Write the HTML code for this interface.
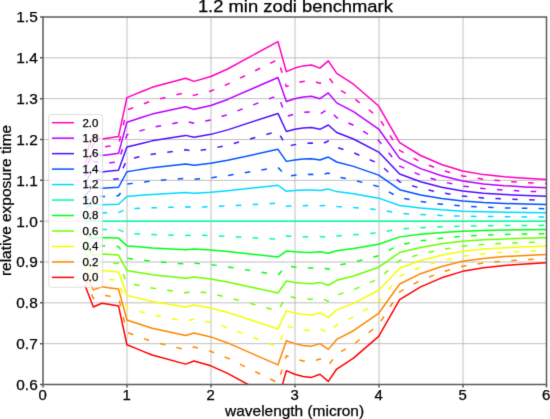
<!DOCTYPE html><html><head><meta charset="utf-8"><style>html,body{margin:0;padding:0;background:#fff;overflow:hidden;}svg{display:block;}#w{width:550px;height:419px;will-change:transform;}text{font-family:"Liberation Sans",sans-serif;fill:#000;stroke:#000;stroke-width:0.25px;}</style></head><body><div id="w">
<svg width="550" height="419" viewBox="0 0 550 419">
<rect width="550" height="419" fill="#fff"/>
<filter id="bl" x="0" y="0" width="550" height="419" filterUnits="userSpaceOnUse" color-interpolation-filters="sRGB"><feConvolveMatrix order="3" kernelMatrix="0.01000 0.08000 0.01000 0.08000 0.64000 0.08000 0.01000 0.08000 0.01000" divisor="1" edgeMode="duplicate" preserveAlpha="true"/></filter>
<g filter="url(#bl)"><rect width="550" height="419" fill="#fff"/>
<defs><clipPath id="ax"><rect x="43.00" y="17.00" width="503.50" height="367.50"/></clipPath></defs>
<path d="M127.00 17.00V384.50M211.00 17.00V384.50M295.00 17.00V384.50M379.00 17.00V384.50M463.00 17.00V384.50M43.00 343.67H546.50M43.00 302.83H546.50M43.00 262.00H546.50M43.00 221.17H546.50M43.00 180.33H546.50M43.00 139.50H546.50M43.00 98.67H546.50M43.00 57.83H546.50" stroke="#b0b0b0" stroke-width="0.8" fill="none"/>
<g clip-path="url(#ax)" fill="none" stroke-width="1.50" stroke-linejoin="round" stroke-linecap="butt">
<polyline points="84.96,157.06 93.35,135.29 101.74,139.09 110.13,137.74 118.53,136.40 126.92,97.60 135.31,94.18 143.70,90.75 152.09,87.32 185.66,78.21 194.05,81.39 210.83,76.49 227.62,68.98 277.97,41.58 286.36,71.68 294.75,68.08 303.14,65.88 311.53,64.94 319.93,68.08 328.32,60.90 336.71,73.31 353.49,84.21 378.67,106.02 399.65,142.60 420.62,155.51 441.60,164.49 462.58,170.98 483.56,174.62 504.54,176.86 525.52,178.37 546.50,179.52" stroke="#ff00bf"/>
<polyline points="84.96,163.47 93.35,143.88 101.74,147.30 110.13,146.09 118.53,144.87 126.92,109.96 135.31,106.87 143.70,103.79 152.09,100.70 185.66,92.50 194.05,95.37 210.83,90.96 227.62,84.20 277.97,59.54 286.36,86.62 294.75,83.39 303.14,81.41 311.53,80.56 319.93,83.39 328.32,76.92 336.71,88.09 353.49,97.91 378.67,117.53 399.65,150.46 420.62,162.07 441.60,170.16 462.58,176.00 483.56,179.27 504.54,181.29 525.52,182.65 546.50,183.68" stroke="#ff00bf" stroke-dasharray="5.55 11.34"/>
<polyline points="84.96,169.88 93.35,152.47 101.74,155.51 110.13,154.43 118.53,153.35 126.92,122.32 135.31,119.57 143.70,116.83 152.09,114.09 185.66,106.80 194.05,109.35 210.83,105.43 227.62,99.42 277.97,77.50 286.36,101.57 294.75,98.70 303.14,96.94 311.53,96.18 319.93,98.70 328.32,92.95 336.71,102.88 353.49,111.60 378.67,129.05 399.65,158.32 420.62,168.64 441.60,175.83 462.58,181.02 483.56,183.93 504.54,185.72 525.52,186.93 546.50,187.85" stroke="#b900ff"/>
<polyline points="84.96,176.29 93.35,161.06 101.74,163.71 110.13,162.77 118.53,161.83 126.92,134.67 135.31,132.27 143.70,129.87 152.09,127.47 185.66,121.10 194.05,123.33 210.83,119.90 227.62,114.64 277.97,95.46 286.36,116.52 294.75,114.01 303.14,112.46 311.53,111.81 319.93,114.01 328.32,108.98 336.71,117.67 353.49,125.30 378.67,140.56 399.65,166.17 420.62,175.20 441.60,181.49 462.58,186.04 483.56,188.58 504.54,190.15 525.52,191.21 546.50,192.01" stroke="#b900ff" stroke-dasharray="5.55 11.34"/>
<polyline points="84.96,182.70 93.35,169.64 101.74,171.92 110.13,171.11 118.53,170.30 126.92,147.03 135.31,144.97 143.70,142.91 152.09,140.86 185.66,135.39 194.05,137.30 210.83,134.36 227.62,129.86 277.97,113.42 286.36,131.47 294.75,129.32 303.14,127.99 311.53,127.43 319.93,129.32 328.32,125.00 336.71,132.45 353.49,138.99 378.67,152.08 399.65,174.03 420.62,181.77 441.60,187.16 462.58,191.06 483.56,193.24 504.54,194.58 525.52,195.49 546.50,196.18" stroke="#4d10ff"/>
<polyline points="84.96,189.11 93.35,178.23 101.74,180.13 110.13,179.46 118.53,178.78 126.92,159.39 135.31,157.67 143.70,155.96 152.09,154.24 185.66,149.69 194.05,151.28 210.83,148.83 227.62,145.07 277.97,131.37 286.36,146.42 294.75,144.62 303.14,143.52 311.53,143.05 319.93,144.62 328.32,141.03 336.71,147.24 353.49,152.69 378.67,163.59 399.65,181.88 420.62,188.34 441.60,192.83 462.58,196.07 483.56,197.89 504.54,199.01 525.52,199.77 546.50,200.34" stroke="#4d10ff" stroke-dasharray="5.55 11.34"/>
<polyline points="84.96,195.52 93.35,186.82 101.74,188.34 110.13,187.80 118.53,187.26 126.92,171.74 135.31,170.37 143.70,169.00 152.09,167.63 185.66,163.98 194.05,165.26 210.83,163.30 227.62,160.29 277.97,149.33 286.36,161.37 294.75,159.93 303.14,159.05 311.53,158.68 319.93,159.93 328.32,157.06 336.71,162.02 353.49,166.38 378.67,175.11 399.65,189.74 420.62,194.90 441.60,198.50 462.58,201.09 483.56,202.55 504.54,203.44 525.52,204.05 546.50,204.51" stroke="#0053ff"/>
<polyline points="84.96,201.93 93.35,195.40 101.74,196.54 110.13,196.14 118.53,195.74 126.92,184.10 135.31,183.07 143.70,182.04 152.09,181.01 185.66,178.28 194.05,179.23 210.83,177.76 227.62,175.51 277.97,167.29 286.36,176.32 294.75,175.24 303.14,174.58 311.53,174.30 319.93,175.24 328.32,173.09 336.71,176.81 353.49,180.08 378.67,186.62 399.65,197.60 420.62,201.47 441.60,204.16 462.58,206.11 483.56,207.20 504.54,207.88 525.52,208.33 546.50,208.67" stroke="#0053ff" stroke-dasharray="5.55 11.34"/>
<polyline points="84.96,208.34 93.35,203.99 101.74,204.75 110.13,204.48 118.53,204.21 126.92,196.45 135.31,195.77 143.70,195.08 152.09,194.40 185.66,192.58 194.05,193.21 210.83,192.23 227.62,190.73 277.97,185.25 286.36,191.27 294.75,190.55 303.14,190.11 311.53,189.92 319.93,190.55 328.32,189.11 336.71,191.60 353.49,193.78 378.67,198.14 399.65,205.45 420.62,208.03 441.60,209.83 462.58,211.13 483.56,211.86 504.54,212.31 525.52,212.61 546.50,212.84" stroke="#00d9ff"/>
<polyline points="84.96,214.76 93.35,212.58 101.74,212.96 110.13,212.82 118.53,212.69 126.92,208.81 135.31,208.47 143.70,208.12 152.09,207.78 185.66,206.87 194.05,207.19 210.83,206.70 227.62,205.95 277.97,203.21 286.36,206.22 294.75,205.86 303.14,205.64 311.53,205.54 319.93,205.86 328.32,205.14 336.71,206.38 353.49,207.47 378.67,209.65 399.65,213.31 420.62,214.60 441.60,215.50 462.58,216.15 483.56,216.51 504.54,216.74 525.52,216.89 546.50,217.00" stroke="#00d9ff" stroke-dasharray="5.55 11.34"/>
<polyline points="84.96,221.17 93.35,221.17 101.74,221.17 110.13,221.17 118.53,221.17 126.92,221.17 135.31,221.17 143.70,221.17 152.09,221.17 185.66,221.17 194.05,221.17 210.83,221.17 227.62,221.17 277.97,221.17 286.36,221.17 294.75,221.17 303.14,221.17 311.53,221.17 319.93,221.17 328.32,221.17 336.71,221.17 353.49,221.17 378.67,221.17 399.65,221.17 420.62,221.17 441.60,221.17 462.58,221.17 483.56,221.17 504.54,221.17 525.52,221.17 546.50,221.17" stroke="#00ff9f"/>
<polyline points="84.96,227.58 93.35,229.75 101.74,229.37 110.13,229.51 118.53,229.64 126.92,233.52 135.31,233.87 143.70,234.21 152.09,234.55 185.66,235.46 194.05,235.14 210.83,235.63 227.62,236.39 277.97,239.13 286.36,236.12 294.75,236.48 303.14,236.70 311.53,236.79 319.93,236.48 328.32,237.19 336.71,235.95 353.49,234.86 378.67,232.68 399.65,229.02 420.62,227.73 441.60,226.83 462.58,226.19 483.56,225.82 504.54,225.60 525.52,225.45 546.50,225.33" stroke="#00ff9f" stroke-dasharray="5.55 11.34"/>
<polyline points="84.96,233.99 93.35,238.34 101.74,237.58 110.13,237.85 118.53,238.12 126.92,245.88 135.31,246.56 143.70,247.25 152.09,247.94 185.66,249.76 194.05,249.12 210.83,250.10 227.62,251.60 277.97,257.08 286.36,251.06 294.75,251.78 303.14,252.22 311.53,252.41 319.93,251.78 328.32,253.22 336.71,250.74 353.49,248.56 378.67,244.20 399.65,236.88 420.62,234.30 441.60,232.50 462.58,231.20 483.56,230.48 504.54,230.03 525.52,229.73 546.50,229.50" stroke="#00ff19"/>
<polyline points="84.96,240.40 93.35,246.93 101.74,245.79 110.13,246.19 118.53,246.60 126.92,258.24 135.31,259.26 143.70,260.29 152.09,261.32 185.66,264.05 194.05,263.10 210.83,264.57 227.62,266.82 277.97,275.04 286.36,266.01 294.75,267.09 303.14,267.75 311.53,268.04 319.93,267.09 328.32,269.25 336.71,265.52 353.49,262.25 378.67,255.71 399.65,244.74 420.62,240.86 441.60,238.17 462.58,236.22 483.56,235.13 504.54,234.46 525.52,234.00 546.50,233.66" stroke="#00ff19" stroke-dasharray="5.55 11.34"/>
<polyline points="84.96,246.81 93.35,255.52 101.74,254.00 110.13,254.54 118.53,255.07 126.92,270.59 135.31,271.96 143.70,273.34 152.09,274.71 185.66,278.35 194.05,277.08 210.83,279.04 227.62,282.04 277.97,293.00 286.36,280.96 294.75,282.40 303.14,283.28 311.53,283.66 319.93,282.40 328.32,285.27 336.71,280.31 353.49,275.95 378.67,267.23 399.65,252.59 420.62,247.43 441.60,243.84 462.58,241.24 483.56,239.79 504.54,238.89 525.52,238.28 546.50,237.83" stroke="#6cff00"/>
<polyline points="84.96,253.22 93.35,264.10 101.74,262.20 110.13,262.88 118.53,263.55 126.92,282.95 135.31,284.66 143.70,286.38 152.09,288.09 185.66,292.65 194.05,291.05 210.83,293.50 227.62,297.26 277.97,310.96 286.36,295.91 294.75,297.71 303.14,298.81 311.53,299.28 319.93,297.71 328.32,301.30 336.71,295.10 353.49,289.64 378.67,278.74 399.65,260.45 420.62,254.00 441.60,249.50 462.58,246.26 483.56,244.44 504.54,243.32 525.52,242.56 546.50,241.99" stroke="#6cff00" stroke-dasharray="5.55 11.34"/>
<polyline points="84.96,259.63 93.35,272.69 101.74,270.41 110.13,271.22 118.53,272.03 126.92,295.30 135.31,297.36 143.70,299.42 152.09,301.48 185.66,306.94 194.05,305.03 210.83,307.97 227.62,312.48 277.97,328.92 286.36,310.86 294.75,313.02 303.14,314.34 311.53,314.90 319.93,313.02 328.32,317.33 336.71,309.88 353.49,303.34 378.67,290.26 399.65,268.30 420.62,260.56 441.60,255.17 462.58,251.28 483.56,249.10 504.54,247.75 525.52,246.84 546.50,246.16" stroke="#f2ff00"/>
<polyline points="84.96,266.04 93.35,281.28 101.74,278.62 110.13,279.56 118.53,280.51 126.92,307.66 135.31,310.06 143.70,312.46 152.09,314.86 185.66,321.24 194.05,319.01 210.83,322.44 227.62,327.70 277.97,346.88 286.36,325.81 294.75,328.33 303.14,329.87 311.53,330.53 319.93,328.33 328.32,333.36 336.71,324.67 353.49,317.04 378.67,301.77 399.65,276.16 420.62,267.13 441.60,260.84 462.58,256.30 483.56,253.75 504.54,252.18 525.52,251.12 546.50,250.32" stroke="#f2ff00" stroke-dasharray="5.55 11.34"/>
<polyline points="84.96,272.45 93.35,289.86 101.74,286.83 110.13,287.90 118.53,288.98 126.92,320.02 135.31,322.76 143.70,325.50 152.09,328.25 185.66,335.53 194.05,332.98 210.83,336.90 227.62,342.92 277.97,364.83 286.36,340.76 294.75,343.63 303.14,345.40 311.53,346.15 319.93,343.63 328.32,349.38 336.71,339.45 353.49,330.73 378.67,313.29 399.65,284.02 420.62,273.69 441.60,266.51 462.58,261.31 483.56,258.41 504.54,256.61 525.52,255.40 546.50,254.49" stroke="#ff8600"/>
<polyline points="84.96,278.86 93.35,298.45 101.74,295.03 110.13,296.25 118.53,297.46 126.92,332.37 135.31,335.46 143.70,338.55 152.09,341.63 185.66,349.83 194.05,346.96 210.83,351.37 227.62,358.13 277.97,382.79 286.36,355.71 294.75,358.94 303.14,360.93 311.53,361.77 319.93,358.94 328.32,365.41 336.71,354.24 353.49,344.43 378.67,324.80 399.65,291.87 420.62,280.26 441.60,272.18 462.58,266.33 483.56,263.06 504.54,261.04 525.52,259.68 546.50,258.65" stroke="#ff8600" stroke-dasharray="5.55 11.34"/>
<polyline points="84.96,285.27 93.35,307.04 101.74,303.24 110.13,304.59 118.53,305.94 126.92,344.73 135.31,348.16 143.70,351.59 152.09,355.02 185.66,364.12 194.05,360.94 210.83,365.84 227.62,373.35 277.97,400.75 286.36,370.66 294.75,374.25 303.14,376.46 311.53,377.40 319.93,374.25 328.32,381.44 336.71,369.02 353.49,358.12 378.67,336.32 399.65,299.73 420.62,286.83 441.60,277.84 462.58,271.35 483.56,267.72 504.54,265.47 525.52,263.96 546.50,262.82" stroke="#ff0000"/>
</g>
<rect x="43.00" y="17.00" width="503.50" height="367.50" fill="none" stroke="#5a5a5a" stroke-width="1.5"/>
<path d="M43.00 384.50v3M127.00 384.50v3M211.00 384.50v3M295.00 384.50v3M379.00 384.50v3M463.00 384.50v3M546.50 384.50v3M43.00 384.50h-3M43.00 343.67h-3M43.00 302.83h-3M43.00 262.00h-3M43.00 221.17h-3M43.00 180.33h-3M43.00 139.50h-3M43.00 98.67h-3M43.00 57.83h-3M43.00 17.00h-3" stroke="#5a5a5a" stroke-width="1.5" fill="none"/>
<text x="42.70" y="400.30" font-size="14.1" text-anchor="middle" textLength="8.3" lengthAdjust="spacingAndGlyphs">0</text>
<text x="126.70" y="400.30" font-size="14.1" text-anchor="middle" textLength="8.3" lengthAdjust="spacingAndGlyphs">1</text>
<text x="210.70" y="400.30" font-size="14.1" text-anchor="middle" textLength="8.3" lengthAdjust="spacingAndGlyphs">2</text>
<text x="294.70" y="400.30" font-size="14.1" text-anchor="middle" textLength="8.3" lengthAdjust="spacingAndGlyphs">3</text>
<text x="378.70" y="400.30" font-size="14.1" text-anchor="middle" textLength="8.3" lengthAdjust="spacingAndGlyphs">4</text>
<text x="462.70" y="400.30" font-size="14.1" text-anchor="middle" textLength="8.3" lengthAdjust="spacingAndGlyphs">5</text>
<text x="546.20" y="400.30" font-size="14.1" text-anchor="middle" textLength="8.3" lengthAdjust="spacingAndGlyphs">6</text>
<text x="37.70" y="389.90" font-size="14.1" text-anchor="end" textLength="21.4" lengthAdjust="spacingAndGlyphs">0.6</text>
<text x="37.70" y="349.07" font-size="14.1" text-anchor="end" textLength="21.4" lengthAdjust="spacingAndGlyphs">0.7</text>
<text x="37.70" y="308.23" font-size="14.1" text-anchor="end" textLength="21.4" lengthAdjust="spacingAndGlyphs">0.8</text>
<text x="37.70" y="267.40" font-size="14.1" text-anchor="end" textLength="21.4" lengthAdjust="spacingAndGlyphs">0.9</text>
<text x="37.70" y="226.57" font-size="14.1" text-anchor="end" textLength="21.4" lengthAdjust="spacingAndGlyphs">1.0</text>
<text x="37.70" y="185.73" font-size="14.1" text-anchor="end" textLength="21.4" lengthAdjust="spacingAndGlyphs">1.1</text>
<text x="37.70" y="144.90" font-size="14.1" text-anchor="end" textLength="21.4" lengthAdjust="spacingAndGlyphs">1.2</text>
<text x="37.70" y="104.07" font-size="14.1" text-anchor="end" textLength="21.4" lengthAdjust="spacingAndGlyphs">1.3</text>
<text x="37.70" y="63.23" font-size="14.1" text-anchor="end" textLength="21.4" lengthAdjust="spacingAndGlyphs">1.4</text>
<text x="37.70" y="22.40" font-size="14.1" text-anchor="end" textLength="21.4" lengthAdjust="spacingAndGlyphs">1.5</text>
<text x="295.4" y="12.2" font-size="16.8" text-anchor="middle" textLength="195" lengthAdjust="spacingAndGlyphs">1.2 min zodi benchmark</text>
<text x="294.6" y="415.8" font-size="14.2" text-anchor="middle" textLength="139" lengthAdjust="spacingAndGlyphs">wavelength (micron)</text>
<text x="0" y="0" font-size="13.8" text-anchor="middle" textLength="151.2" lengthAdjust="spacingAndGlyphs" transform="translate(11.0 200.5) rotate(-90)">relative exposure time</text>
<rect x="48.70" y="114.60" width="53.90" height="172.70" rx="2" fill="#fff" fill-opacity="0.8" stroke="#cccccc" stroke-opacity="0.8" stroke-width="0.8"/>
<path d="M52 122.70H74" stroke="#ff00bf" stroke-width="1.50"/>
<text x="82.4" y="126.50" font-size="10.6" textLength="16" lengthAdjust="spacingAndGlyphs">2.0</text>
<path d="M52 138.17H74" stroke="#b900ff" stroke-width="1.50"/>
<text x="82.4" y="141.97" font-size="10.6" textLength="16" lengthAdjust="spacingAndGlyphs">1.8</text>
<path d="M52 153.64H74" stroke="#4d10ff" stroke-width="1.50"/>
<text x="82.4" y="157.44" font-size="10.6" textLength="16" lengthAdjust="spacingAndGlyphs">1.6</text>
<path d="M52 169.11H74" stroke="#0053ff" stroke-width="1.50"/>
<text x="82.4" y="172.91" font-size="10.6" textLength="16" lengthAdjust="spacingAndGlyphs">1.4</text>
<path d="M52 184.58H74" stroke="#00d9ff" stroke-width="1.50"/>
<text x="82.4" y="188.38" font-size="10.6" textLength="16" lengthAdjust="spacingAndGlyphs">1.2</text>
<path d="M52 200.05H74" stroke="#00ff9f" stroke-width="1.50"/>
<text x="82.4" y="203.85" font-size="10.6" textLength="16" lengthAdjust="spacingAndGlyphs">1.0</text>
<path d="M52 215.52H74" stroke="#00ff19" stroke-width="1.50"/>
<text x="82.4" y="219.32" font-size="10.6" textLength="16" lengthAdjust="spacingAndGlyphs">0.8</text>
<path d="M52 230.99H74" stroke="#6cff00" stroke-width="1.50"/>
<text x="82.4" y="234.79" font-size="10.6" textLength="16" lengthAdjust="spacingAndGlyphs">0.6</text>
<path d="M52 246.46H74" stroke="#f2ff00" stroke-width="1.50"/>
<text x="82.4" y="250.26" font-size="10.6" textLength="16" lengthAdjust="spacingAndGlyphs">0.4</text>
<path d="M52 261.93H74" stroke="#ff8600" stroke-width="1.50"/>
<text x="82.4" y="265.73" font-size="10.6" textLength="16" lengthAdjust="spacingAndGlyphs">0.2</text>
<path d="M52 277.40H74" stroke="#ff0000" stroke-width="1.50"/>
<text x="82.4" y="281.20" font-size="10.6" textLength="16" lengthAdjust="spacingAndGlyphs">0.0</text>
</g></svg></div></body></html>
